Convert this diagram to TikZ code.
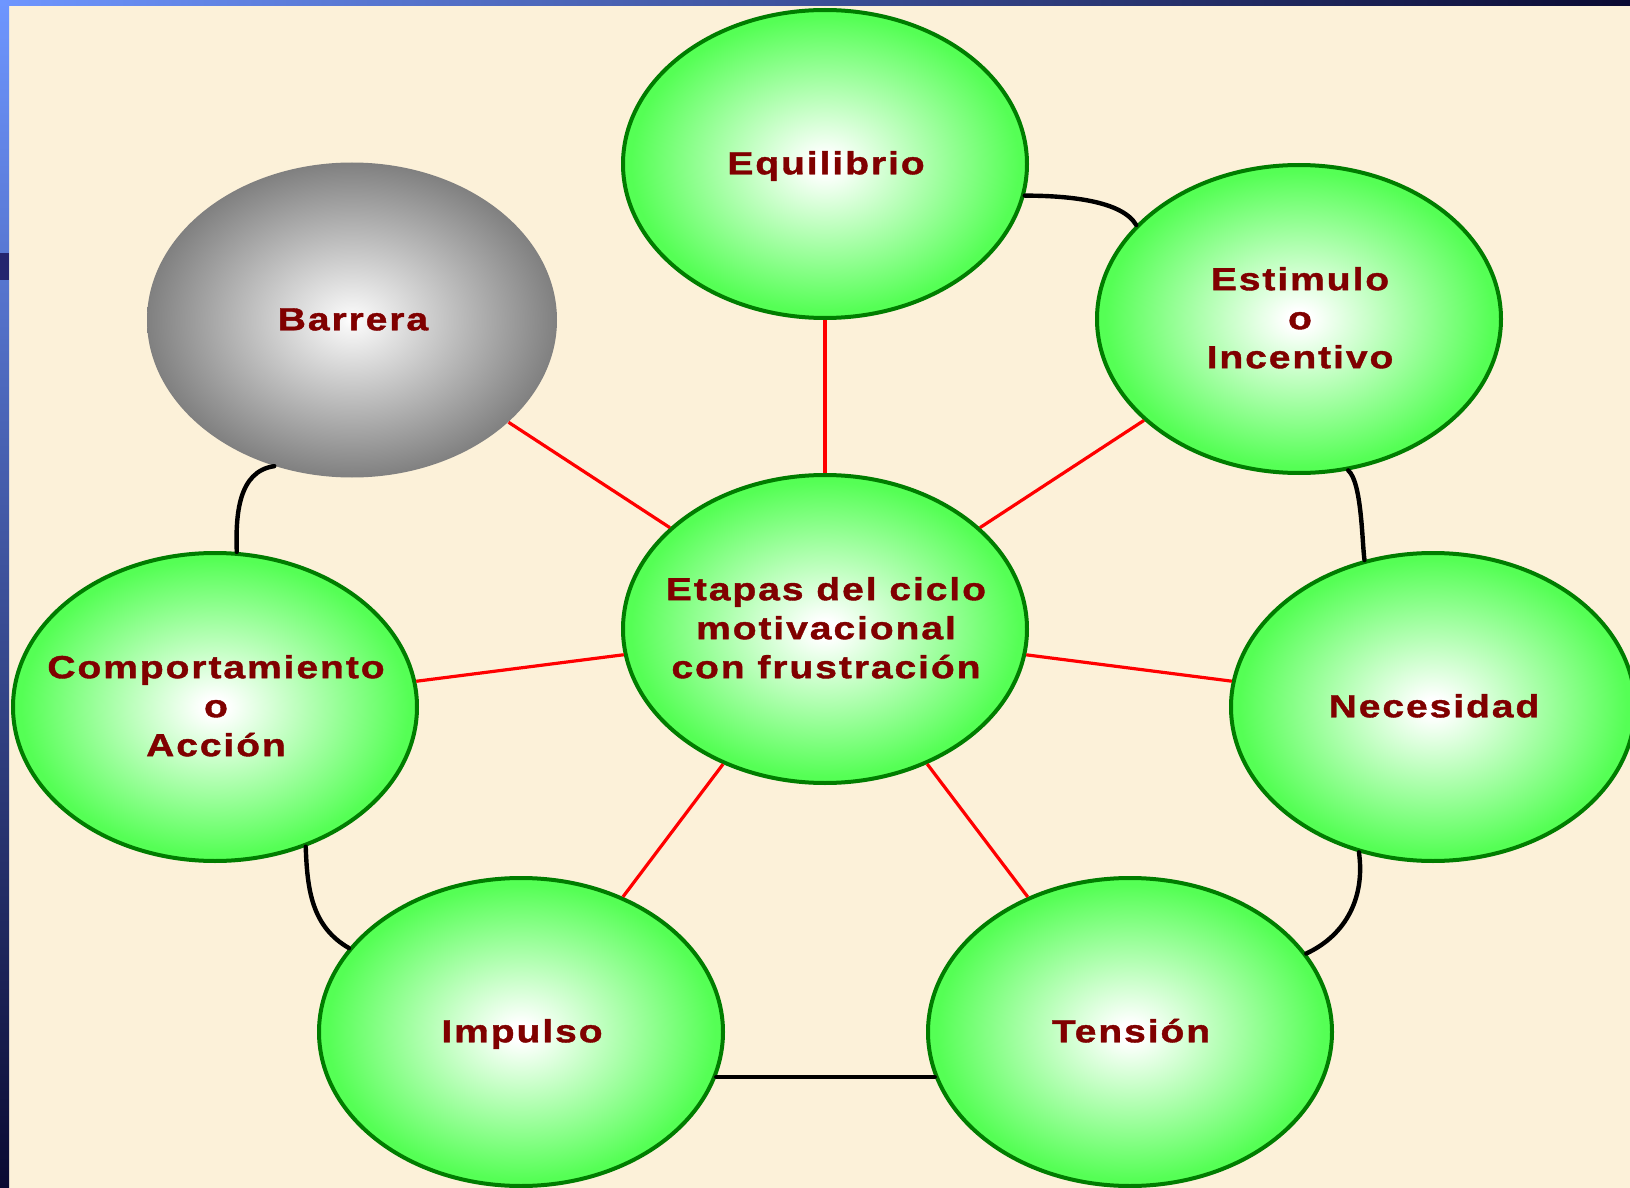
\documentclass[tikz,border=0pt]{standalone}
\usepackage{fontspec}
\newfontfamily\lblfont[FakeStretch=1.22,LetterSpace=6,FakeBold=1.2]{Liberation Sans}
\usetikzlibrary{shapes.geometric}
\definecolor{ballgreen}{RGB}{85,255,85}
\definecolor{ringgreen}{RGB}{0,125,0}
\definecolor{txtred}{RGB}{128,0,0}
\definecolor{paper}{RGB}{252,241,217}
\definecolor{ballgray}{RGB}{128,128,128}
\definecolor{bandlight}{RGB}{110,150,255}
\definecolor{bandmid}{RGB}{100,100,255}
\definecolor{banddark}{RGB}{10,10,50}
\pgfdeclareradialshading{greenball}{\pgfpointorigin}{color(0bp)=(white); color(1.5bp)=(white); color(24bp)=(ballgreen); color(25bp)=(ballgreen); color(50bp)=(ballgreen)}
\pgfdeclareradialshading{grayball}{\pgfpointorigin}{color(0bp)=(white); color(1.5bp)=(white!96!black); color(25bp)=(ballgray); color(50bp)=(ballgray)}
\begin{document}
\begin{tikzpicture}[x=0.5pt,y=-0.5pt,
  ell/.style={ellipse, draw=ringgreen, line width=2pt, shade, shading=greenball,
    minimum width=202pt, minimum height=154pt, inner sep=0pt},
  grayell/.style={ellipse, shade, shading=grayball,
    minimum width=205pt, minimum height=157.5pt, inner sep=0pt},
  lbl/.style={text=txtred, font=\lblfont\bfseries\fontsize{16}{19.5}\selectfont,
    align=center, inner sep=0pt, xshift=0.5pt, yshift=0.6pt},
  one/.style={text height=11.5pt, text depth=0pt},
  redline/.style={draw=red, line width=1.6pt},
  blackline/.style={draw=black, line width=2.2pt, line cap=round}]
\useasboundingbox (0,0) rectangle (1630,1188);
\clip (0,0) rectangle (1630,1188);
\fill[paper] (0,0) rectangle (1630,1188);
\shade[top color=bandlight, middle color=bandmid, bottom color=banddark] (0,0) rectangle (9,1188);
\shade[left color=bandlight, middle color=bandmid, right color=banddark] (0,0) rectangle (1630,6);
\fill[banddark!70!bandmid] (0,253) rectangle (9,280);

\node[ell] (eq) at (825,164) {};
\node[grayell] (ba) at (352,320) {};
\node[ell] (es) at (1299,319) {};
\node[ell] (c) at (825,629) {};
\node[ell] (co) at (215,707) {};
\node[ell] (ne) at (1433,707) {};
\node[ell] (im) at (521,1032) {};
\node[ell] (te) at (1130,1032) {};

\node[lbl,one] (eqT) at (eq) {Equilibrio};
\node[lbl,one] (baT) at (ba) {Barrera};
\node[lbl] (esT) at (es) {Estimulo\\o\\Incentivo};
\node[lbl] (cT) at (c) {Etapas del ciclo\\motivacional\\con frustración};
\node[lbl] (coT) at (co) {Comportamiento\\o\\Acción};
\node[lbl,one] (neT) at (ne) {Necesidad};
\node[lbl,one] (imT) at (im) {Impulso};
\node[lbl,one] (teT) at (te) {Tensión};

\draw[redline] (c) -- (eq);
\draw[redline] (c) -- (ba);
\draw[redline] (c) -- (es);
\draw[redline] (c) -- (co);
\draw[redline] (c) -- (ne);
\draw[redline] (c) -- (im);
\draw[redline] (c) -- (te);

\draw[blackline] (eq.-9) .. controls +(45,0) and +(-14,-24) .. (es.150);
\draw[blackline] (es.-72) to[out=-40,in=98,looseness=0.5] (ne.115);
\draw[blackline] (ne.-117) to[out=-82,in=25] (te.24);
\draw[blackline] (im.-13.6) -- (te.193.6);
\draw[blackline] (co.-57) to[out=-88,in=150] (im.154);
\draw[blackline] (co.82) to[out=92,in=188] (ba.-118);
\end{tikzpicture}
\end{document}
